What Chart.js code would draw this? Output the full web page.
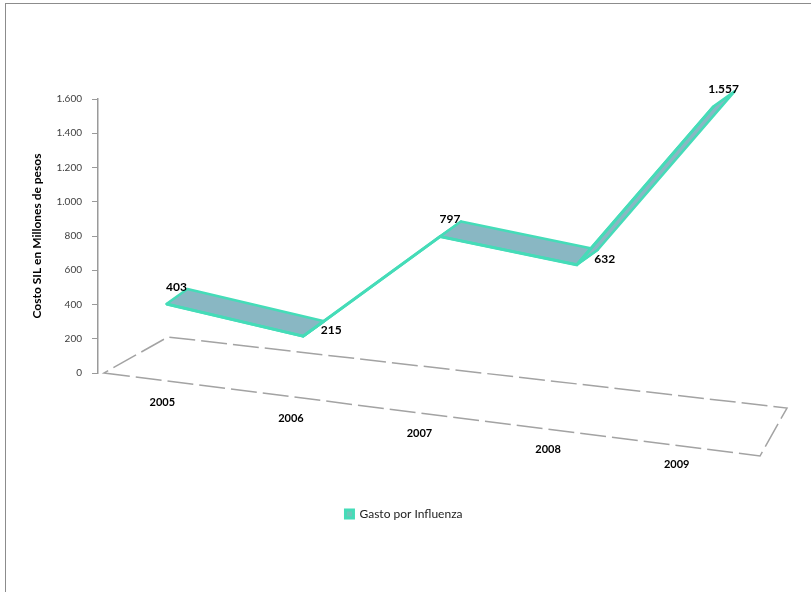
<!DOCTYPE html>
<html>
<head>
<meta charset="utf-8">
<script src="https://cdn.jsdelivr.net/npm/chart.js@4.4.1/dist/chart.umd.min.js"></script>
<style>
  body { margin: 0; background: #fff; }
  #wrap { position: relative; width: 811px; height: 592px; }
  #frame { position: absolute; left: 5px; top: 3px; width: 820px; height: 600px;
           border-left: 1px solid #8c8c8c; border-top: 1px solid #8c8c8c; }
  canvas { position: absolute; left: 0; top: 0; }
</style>
</head>
<body>
<div id="wrap">
  <div id="frame"></div>
  <canvas id="gastoChart" width="811" height="592"></canvas>
</div>
<script>
const years = ['2005', '2006', '2007', '2008', '2009'];
const gasto = [403, 215, 797, 632, 1557];
const yTicks = [0, 200, 400, 600, 800, 1000, 1200, 1400, 1600];

const lineColor = '#45dcb8';   // turquoise edge
const ribbonFill = '#89b7c3';  // top face of the ribbon
const depth = { x: 21, y: -15 };
const fontFam = 'Lato, "Open Sans", sans-serif';

// thousands with a dot, like the source (1.600)
function fmt(v) {
    return String(v).replace(/\B(?=(\d{3})+(?!\d))/g, '.');
}

// floor, 3d ribbon, slanted year labels and value labels
const fake3d = {
    id: 'fake3d',
    beforeDatasetsDraw(chart) {
        const ctx = chart.ctx;
        const a = chart.chartArea;
        ctx.save();
        // floor box
        ctx.strokeStyle = '#a3a3a3';
        ctx.lineWidth = 1.5;
        ctx.setLineDash([26, 6]);
        ctx.beginPath();
        ctx.moveTo(a.left + 6, a.bottom);
        ctx.lineTo(a.right - 22, a.bottom + 83);
        ctx.lineTo(a.right + 5, a.bottom + 35);
        ctx.lineTo(a.left + 70, a.bottom - 36);
        ctx.closePath();
        ctx.stroke();
        ctx.setLineDash([]);

        // ribbon faces
        const pts = chart.getDatasetMeta(0).data;
        for (let i = 0; i < pts.length - 1; i++) {
            const p = pts[i], q = pts[i + 1];
            ctx.beginPath();
            ctx.moveTo(p.x, p.y);
            ctx.lineTo(q.x, q.y);
            ctx.lineTo(q.x + depth.x, q.y + depth.y);
            ctx.lineTo(p.x + depth.x, p.y + depth.y);
            ctx.closePath();
            ctx.fillStyle = ribbonFill;
            ctx.fill();
            ctx.strokeStyle = lineColor;
            ctx.lineWidth = 2.5;
            ctx.lineJoin = 'round';
            ctx.stroke();
        }
        ctx.restore();
    },
    afterDatasetsDraw(chart) {
        const ctx = chart.ctx;
        const a = chart.chartArea;
        const xs = chart.scales.x;
        ctx.save();
        ctx.fillStyle = '#000';
        ctx.font = 'bold 11px ' + fontFam;
        ctx.textAlign = 'center';
        ctx.textBaseline = 'middle';
        // year labels follow the tilted floor
        years.forEach((yr, i) => {
            const px = xs.getPixelForValue(i);
            ctx.fillText(yr, px - 0.06 * (px - a.left), a.bottom + 22 + 0.113 * (px - a.left));
        });
        // value labels: troughs to the right, the rest above
        const pts = chart.getDatasetMeta(0).data;
        ctx.font = 'bold 12px ' + fontFam;
        pts.forEach((p, i) => {
            const v = gasto[i];
            const prev = i > 0 ? gasto[i - 1] : Infinity;
            const next = i < gasto.length - 1 ? gasto[i + 1] : Infinity;
            if (v < prev && v < next) {
                ctx.fillText(fmt(v), p.x + 28, p.y - 6);
            } else {
                ctx.fillText(fmt(v), p.x + 10, p.y - 17);
            }
        });
        ctx.restore();
    }
};

const ctx = document.getElementById('gastoChart').getContext('2d');
new Chart(ctx, {
    type: 'line',
    data: {
        labels: years,
        datasets: [{
            label: 'Gasto por Influenza',
            data: gasto,
            borderColor: lineColor,
            backgroundColor: '#6cc9b9',
            borderWidth: 3,
            pointRadius: 0,
            tension: 0
        }]
    },
    options: {
        responsive: false,
        animation: false,
        layout: {
            padding: { left: 26, top: 99, right: 29, bottom: 62 }
        },
        plugins: {
            legend: {
                position: 'bottom',
                labels: {
                    boxWidth: 8,
                    boxHeight: 8,
                    color: '#222',
                    font: { family: fontFam, size: 12 }
                }
            },
            tooltip: { enabled: false }
        },
        scales: {
            x: {
                offset: true,
                grid: { display: false },
                border: { display: false },
                ticks: { display: false },
                afterFit: scale => { scale.height = 125; }
            },
            y: {
                min: 0,
                max: 1600,
                afterBuildTicks: scale => {
                    scale.ticks = yTicks.map(v => ({ value: v }));
                },
                afterFit: scale => { scale.width = 72; },
                grid: {
                    drawOnChartArea: false,
                    tickLength: 6,
                    color: '#9a9a9a'
                },
                border: { color: '#9a9a9a', width: 1.5, dash: [20, 4] },
                ticks: {
                    padding: 10,
                    color: '#404040',
                    font: { family: fontFam, size: 10 },
                    callback: v => fmt(v)
                },
                title: {
                    display: true,
                    text: 'Costo SIL en Millones de pesos',
                    color: '#000',
                    font: { family: fontFam, size: 12, weight: 'bold' }
                }
            }
        }
    },
    plugins: [fake3d]
});
</script>
</body>
</html>
